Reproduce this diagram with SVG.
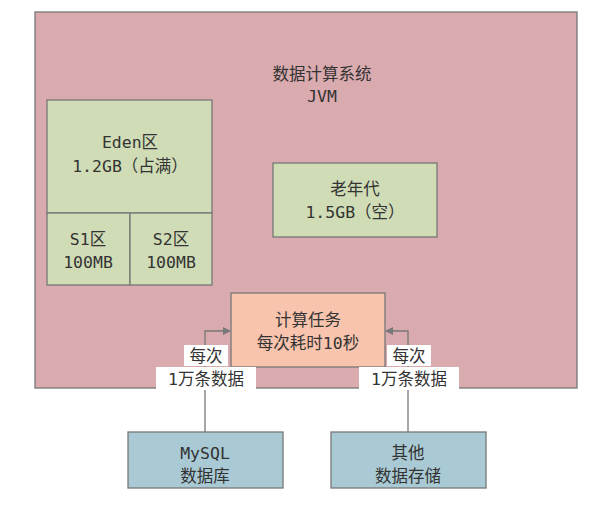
<svg xmlns="http://www.w3.org/2000/svg" width="606" height="517" viewBox="0 0 606 517">
<style>
text{font-family:"DejaVu Sans Mono","Noto Sans CJK SC",monospace;font-size:16.5px;fill:#333;text-anchor:middle}
.b{stroke:#777;stroke-width:1.3}
.g{fill:#cfdcb6}
.line{fill:none;stroke:#777;stroke-width:1.3}
</style>
<defs><marker id="a" markerWidth="8" markerHeight="8" refX="7" refY="4" orient="auto" markerUnits="userSpaceOnUse"><path d="M0,0L8,4L0,8z" fill="#777"/></marker></defs>
<rect width="606" height="517" fill="#fff"/>
<g id="jvm"><rect x="35" y="12" width="542" height="376" fill="#d9aaae" class="b"/>
<text x="322" y="80">数据计算系统</text><text x="322" y="102">JVM</text></g>
<g id="eden"><rect x="47" y="100" width="165" height="113" class="b g"/><text x="130" y="148">Eden区</text><text x="130" y="172">1.2GB（占满）</text></g>
<g id="s1"><rect x="47" y="213" width="83" height="72" class="b g"/><text x="88" y="245">S1区</text><text x="88" y="268">100MB</text></g>
<g id="s2"><rect x="130" y="213" width="82" height="72" class="b g"/><text x="171" y="245">S2区</text><text x="171" y="268">100MB</text></g>
<g id="old"><rect x="273" y="163" width="164" height="74" class="b g"/><text x="355" y="195">老年代</text><text x="355" y="218">1.5GB（空）</text></g>
<g id="task"><rect x="231" y="293" width="154" height="74" fill="#f8c4ad" class="b"/><text x="308" y="326">计算任务</text><text x="308" y="349">每次耗时10秒</text></g>
<g id="mysql"><rect x="128" y="432" width="155" height="56" fill="#a9cad4" class="b"/><text x="205" y="459">MySQL</text><text x="205" y="482">数据库</text></g>
<g id="other"><rect x="331" y="432" width="155" height="56" fill="#a9cad4" class="b"/><text x="408" y="459">其他</text><text x="408" y="482">数据存储</text></g>
<g id="connectors">
<path class="line" d="M205,432V331H230" marker-end="url(#a)"/>
<path class="line" d="M408,432V331H386" marker-end="url(#a)"/>
<rect x="184" y="345" width="44" height="21" fill="#fff"/><rect x="156" y="367" width="100" height="23" fill="#fff"/>
<text x="206" y="362">每次</text><text x="206" y="385">1万条数据</text>
<rect x="387" y="345" width="44" height="21" fill="#fff"/><rect x="359" y="367" width="100" height="23" fill="#fff"/>
<text x="409" y="362">每次</text><text x="409" y="385">1万条数据</text>
</g>
</svg>
